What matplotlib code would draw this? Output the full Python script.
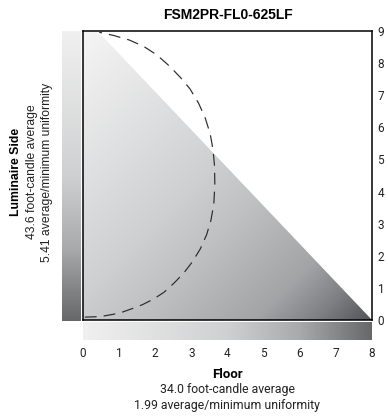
import numpy as np
import matplotlib
matplotlib.use('Agg')
import matplotlib.pyplot as plt
from matplotlib.colors import LinearSegmentedColormap
from matplotlib.patches import Polygon

# ---- data ----
title = "FSM2PR-FL0-625LF"
x_ticks = [0, 1, 2, 3, 4, 5, 6, 7, 8]
y_ticks = [0, 1, 2, 3, 4, 5, 6, 7, 8, 9]
x_max, y_max = 8, 9
lit_region_x = [0, 0, 0.4, 8]
lit_region_y = [0, 9, 9, 0]
contour_x = [0.05, 0.35, 0.6, 0.85, 1.1, 1.35, 1.65, 1.95, 2.25, 2.52, 2.78, 3.02, 3.24,
             3.42, 3.54, 3.62, 3.65, 3.64, 3.6, 3.52, 3.38, 3.2, 2.96, 2.7, 2.4,
             2.05, 1.68, 1.28, 0.85, 0.45]
contour_y = [0.09, 0.10, 0.13, 0.18, 0.25, 0.35, 0.48, 0.65, 0.87, 1.15, 1.45, 1.8, 2.2,
             2.65, 3.1, 3.6, 4.2, 4.8, 5.3, 5.8, 6.3, 6.75, 7.2, 7.55, 7.9,
             8.25, 8.52, 8.72, 8.86, 8.96]
side_label = ["Luminaire Side", "43.6 foot-candle average", "5.41 average/minimum uniformity"]
floor_label = ["Floor", "34.0 foot-candle average", "1.99 average/minimum uniformity"]

W, H = 388, 417
fig = plt.figure(figsize=(W / 100, H / 100), dpi=100)

def box(l, t, r, b):
    return [l / W, 1 - b / H, (r - l) / W, (b - t) / H]

tick_font = 'Roboto'
head_font = 'Liberation Sans'

# main plot
ax = fig.add_axes(box(83, 31, 372, 320))
cmap = LinearSegmentedColormap.from_list('g', [(0, '#f5f5f5'), (0.45, '#cfd0d2'), (0.6, '#bebfc1'),
                                               (0.8, '#a3a4a6'), (0.9, '#808184'), (1, '#535457')])
gx, gy = np.meshgrid(np.linspace(0, x_max, 400), np.linspace(0, y_max, 400))
t = 0.5 * (gx / x_max) + 0.5 * (1 - gy / y_max)
im = ax.imshow(t, extent=[0, x_max, 0, y_max], origin='lower', cmap=cmap, vmin=0, vmax=1,
               aspect='auto', interpolation='bilinear')
poly = Polygon(np.column_stack([lit_region_x, lit_region_y]), closed=True,
               facecolor='none', edgecolor='none')
ax.add_patch(poly)
im.set_clip_path(poly)
ax.plot(contour_x, contour_y, color='#2a2a2a', lw=0.85, dashes=(10, 6))
ax.set_xlim(0, x_max)
ax.set_ylim(0, y_max)
ax.set_xticks([])
ax.yaxis.tick_right()
ax.set_yticks(y_ticks)
ax.set_yticklabels([str(v) for v in y_ticks], fontfamily=tick_font)
ax.tick_params(axis='y', length=0, pad=4, labelsize=8.5, labelcolor='#222222')
for s in ax.spines.values():
    s.set_linewidth(1.1)

bar_cmap = LinearSegmentedColormap.from_list('b', [(0, '#f0f0f0'), (0.5, '#cfd0d1'),
                                                   (0.75, '#a9aaab'), (1, '#67686a')])
# bottom bar
axb = fig.add_axes(box(83, 322, 372, 340))
axb.imshow(np.linspace(0, 1, 300)[None, :], extent=[0, x_max, 0, 1], cmap=bar_cmap,
           aspect='auto', vmin=0, vmax=1)
axb.set_xlim(0, x_max)
axb.set_yticks([])
axb.set_xticks(x_ticks)
axb.set_xticklabels([str(v) for v in x_ticks], fontfamily=tick_font)
axb.tick_params(axis='x', length=0, pad=5, labelsize=8.5, labelcolor='#222222')
for s in axb.spines.values():
    s.set_visible(False)

# left bar (light at top, dark at bottom)
axl = fig.add_axes(box(62, 31, 80, 321))
axl.imshow(np.linspace(0, 1, 300)[:, None], extent=[0, 1, 0, y_max], cmap=bar_cmap,
           aspect='auto', vmin=0, vmax=1)
axl.set_xticks([])
axl.set_yticks([])
for s in axl.spines.values():
    s.set_visible(False)

# texts
fig.text(228 / W, 1 - 15 / H, title, ha='center', va='center', fontsize=10,
         fontweight='bold', family=head_font)
fig.text(227 / W, 1 - 374 / H, floor_label[0], ha='center', va='center', fontsize=9.5,
         fontweight='bold', family=tick_font)
fig.text(227 / W, 1 - 389 / H, floor_label[1], ha='center', va='center', fontsize=8.8,
         family=tick_font, color='#222222')
fig.text(227 / W, 1 - 405 / H, floor_label[2], ha='center', va='center', fontsize=8.8,
         family=tick_font, color='#222222')

fig.text(16 / W, 1 - 172 / H, side_label[0], ha='center', va='center', rotation=90,
         fontsize=8.8, fontweight='bold', family=head_font)
fig.text(32 / W, 1 - 172 / H, side_label[1], ha='center', va='center', rotation=90,
         fontsize=8.7, family=head_font, color='#222222')
fig.text(47 / W, 1 - 172 / H, side_label[2], ha='center', va='center', rotation=90,
         fontsize=8.7, family=head_font, color='#222222')

fig.savefig('out.png', dpi=100)
